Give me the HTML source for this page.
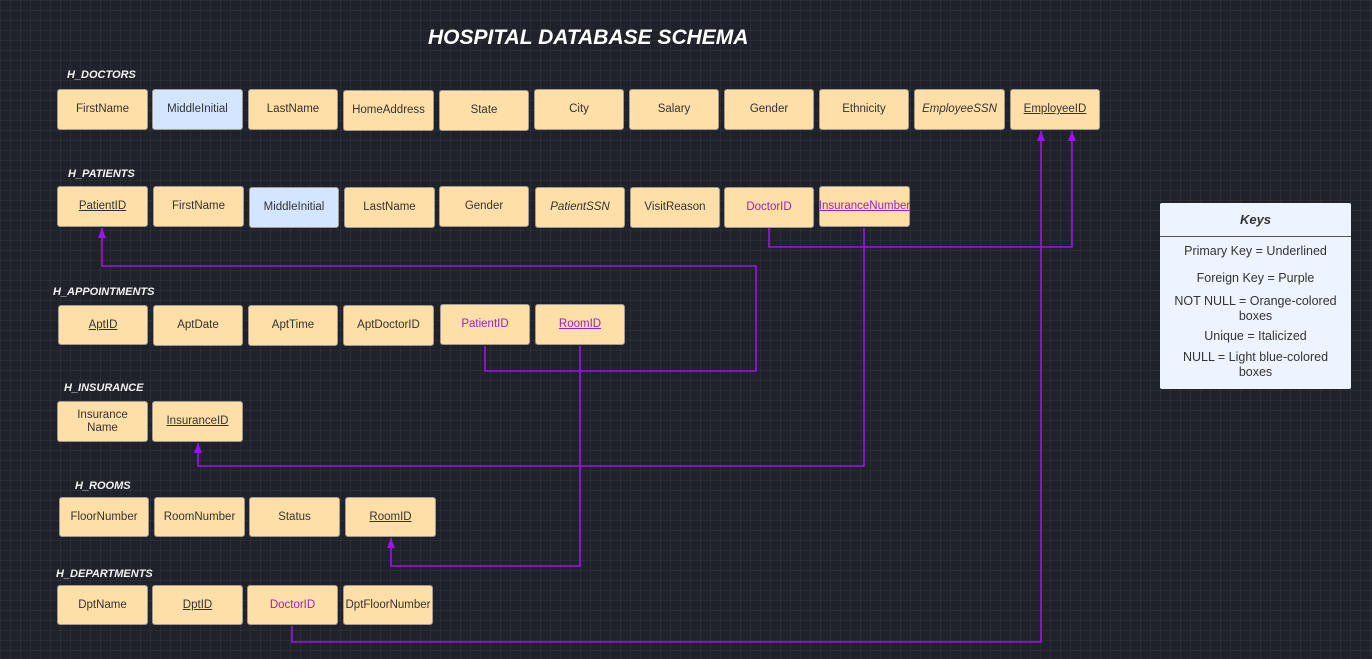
<!DOCTYPE html>
<html><head><meta charset="utf-8"><style>
*{margin:0;padding:0;box-sizing:border-box}
body{width:1372px;height:659px;overflow:hidden;background-color:#1f222a;
background-image:linear-gradient(rgba(255,255,255,0.045) 1px,transparent 1px),linear-gradient(90deg,rgba(255,255,255,0.045) 1px,transparent 1px);
background-size:10px 10px;position:relative;font-family:"Liberation Sans",sans-serif}
.b{position:absolute;background:#ffdfa8;border:1px solid #a09a90;border-radius:3px;display:flex;align-items:center;justify-content:center;text-align:center;font-size:11.5px;color:#333;line-height:13px}
.n{background:#d4e6ff}
.u{text-decoration:underline}
.i{font-style:italic}
.p{color:#9b1fc8}
.l{position:absolute;color:#f2f2f2;font-weight:bold;font-style:italic;font-size:11px}
.t{position:absolute;color:#fff;font-weight:bold;font-style:italic;font-size:21px;left:428px;top:26px}
.k{position:absolute;left:1160px;top:203px;width:191px;height:186px;background:#eef4ff;border-radius:2px;color:#333;font-size:12.5px;text-align:center}
.k .h{height:34px;border-bottom:1px solid #555;font-weight:bold;font-style:italic;font-size:13px;line-height:34px}
svg{position:absolute;left:0;top:0}
</style></head><body>
<div class="t">HOSPITAL DATABASE SCHEMA</div>
<div class="l" style="left:67px;top:69px">H_DOCTORS</div>
<div class="l" style="left:68px;top:168px">H_PATIENTS</div>
<div class="l" style="left:53px;top:286px">H_APPOINTMENTS</div>
<div class="l" style="left:64px;top:382px">H_INSURANCE</div>
<div class="l" style="left:75px;top:480px">H_ROOMS</div>
<div class="l" style="left:56px;top:568px">H_DEPARTMENTS</div>

<div class="b" style="left:57px;top:89px;width:91px;height:41px">FirstName</div>
<div class="b n" style="left:152px;top:89px;width:91px;height:41px">MiddleInitial</div>
<div class="b" style="left:248px;top:89px;width:90px;height:41px">LastName</div>
<div class="b" style="left:343px;top:90px;width:91px;height:41px">HomeAddress</div>
<div class="b" style="left:439px;top:90px;width:90px;height:41px">State</div>
<div class="b" style="left:534px;top:89px;width:90px;height:41px">City</div>
<div class="b" style="left:629px;top:89px;width:90px;height:41px">Salary</div>
<div class="b" style="left:724px;top:89px;width:90px;height:41px">Gender</div>
<div class="b" style="left:819px;top:89px;width:90px;height:41px">Ethnicity</div>
<div class="b i" style="left:914px;top:89px;width:91px;height:41px">EmployeeSSN</div>
<div class="b u" style="left:1010px;top:89px;width:90px;height:41px">EmployeeID</div>

<div class="b u" style="left:57px;top:186px;width:91px;height:41px">PatientID</div>
<div class="b" style="left:153px;top:186px;width:91px;height:41px">FirstName</div>
<div class="b n" style="left:249px;top:187px;width:90px;height:41px">MiddleInitial</div>
<div class="b" style="left:344px;top:187px;width:91px;height:41px">LastName</div>
<div class="b" style="left:439px;top:186px;width:90px;height:41px">Gender</div>
<div class="b i" style="left:535px;top:187px;width:90px;height:41px">PatientSSN</div>
<div class="b" style="left:630px;top:187px;width:90px;height:41px">VisitReason</div>
<div class="b p" style="left:724px;top:187px;width:90px;height:41px">DoctorID</div>
<div class="b p u" style="left:819px;top:186px;width:91px;height:41px">InsuranceNumber</div>

<div class="b u" style="left:58px;top:305px;width:90px;height:40px">AptID</div>
<div class="b" style="left:153px;top:305px;width:90px;height:41px">AptDate</div>
<div class="b" style="left:248px;top:305px;width:90px;height:41px">AptTime</div>
<div class="b" style="left:343px;top:305px;width:91px;height:41px">AptDoctorID</div>
<div class="b p" style="left:440px;top:304px;width:90px;height:41px">PatientID</div>
<div class="b p u" style="left:535px;top:304px;width:90px;height:41px">RoomID</div>

<div class="b" style="left:57px;top:401px;width:91px;height:41px">Insurance<br>Name</div>
<div class="b u" style="left:152px;top:401px;width:91px;height:41px">InsuranceID</div>

<div class="b" style="left:59px;top:497px;width:90px;height:40px">FloorNumber</div>
<div class="b" style="left:154px;top:497px;width:91px;height:40px">RoomNumber</div>
<div class="b" style="left:249px;top:497px;width:91px;height:40px">Status</div>
<div class="b u" style="left:345px;top:497px;width:91px;height:40px">RoomID</div>

<div class="b" style="left:57px;top:585px;width:91px;height:40px">DptName</div>
<div class="b u" style="left:152px;top:585px;width:91px;height:40px">DptID</div>
<div class="b p" style="left:247px;top:585px;width:91px;height:40px">DoctorID</div>
<div class="b" style="left:343px;top:585px;width:90px;height:40px">DptFloorNumber</div>

<svg width="1372" height="659" viewBox="0 0 1372 659">
<defs><marker id="a" markerWidth="10" markerHeight="8" refX="10" refY="4" orient="auto" markerUnits="userSpaceOnUse" viewBox="0 0 10 8"><path d="M0 0 L10 4 L0 8 Z" fill="#a010f0"/></marker></defs>
<g fill="none" stroke="#a010f0" stroke-width="1.6">
<path d="M769 228 V247 H1072 V131" marker-end="url(#a)"/>
<path d="M292 626 V642 H1041 V131" marker-end="url(#a)"/>
<path d="M485 346 V371 H756 V266 H102 V228" marker-end="url(#a)"/>
<path d="M864 228 V466 H198 V443" marker-end="url(#a)"/>
<path d="M580 346 V566 H391 V538" marker-end="url(#a)"/>
</g></svg>

<div class="k"><div class="h">Keys</div>
<div style="padding-top:7px">Primary Key = Underlined</div>
<div style="margin-top:13px">Foreign Key = Purple</div>
<div style="margin-top:9px;line-height:15px">NOT NULL = Orange-colored<br>boxes</div>
<div style="margin-top:5px">Unique = Italicized</div>
<div style="margin-top:7px;line-height:15px">NULL = Light blue-colored<br>boxes</div>
</div>
</body></html>
